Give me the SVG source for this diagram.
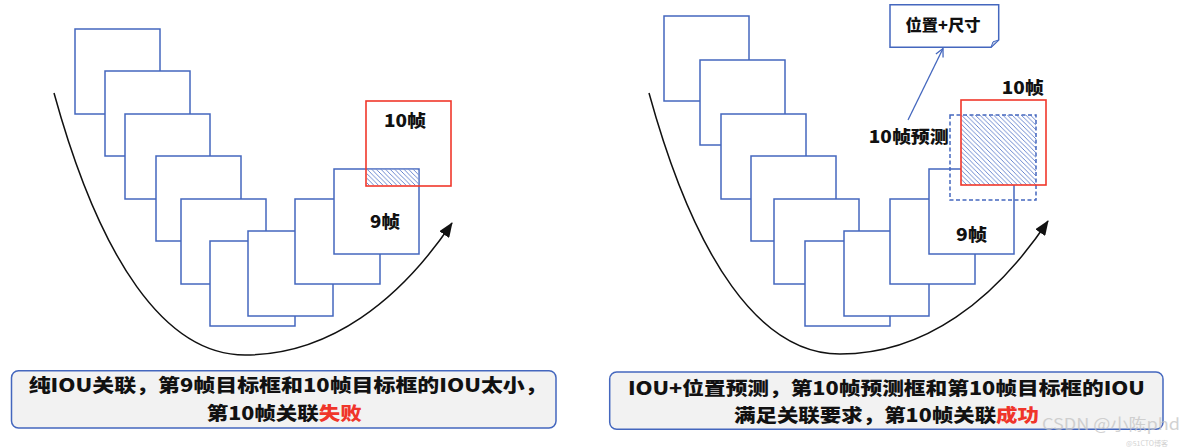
<svg xmlns="http://www.w3.org/2000/svg" width="1184" height="447" viewBox="0 0 1184 447">
<style>
.fr{fill:#ffffff;stroke:#4467BE;stroke-width:1.5}
.red{fill:none;stroke:#F0372B;stroke-width:1.6}
.dash{fill:none;stroke:#4467BE;stroke-width:1.5;stroke-dasharray:4 2.5}
.lbl{font-family:"Noto Sans CJK SC","Noto Sans",sans-serif;font-weight:900;fill:#111111}
.cap{fill:#F2F2F2;stroke:#4467BE;stroke-width:1.5}
.curve{fill:none;stroke:#111111;stroke-width:1.5}
.wm{font-family:"Noto Sans CJK SC","Noto Sans",sans-serif;fill:#c4c4c4;opacity:0.75}
</style>
<defs>
<pattern id="hatch" patternUnits="userSpaceOnUse" width="4.6" height="4.6">
<rect width="4.6" height="4.6" fill="#ffffff"/>
<path d="M-1,-1 L5.6,5.6 M-1,3.6 L1,5.6 M3.6,-1 L5.6,1" stroke="#5274C8" stroke-width="0.85"/>
</pattern>
<marker id="ah" markerUnits="userSpaceOnUse" markerWidth="15" markerHeight="12" viewBox="0 0 15 12" refX="14" refY="6" orient="auto">
<path d="M0,0 L15,6 L0,12 Z" fill="#111111"/>
</marker>
<marker id="oh" markerUnits="userSpaceOnUse" markerWidth="10" markerHeight="10" viewBox="0 0 10 10" refX="9" refY="5" orient="auto">
<path d="M1,1 L9,5 L1,9" fill="none" stroke="#4467BE" stroke-width="1.3"/>
</marker>
</defs>
<rect width="1184" height="447" fill="#ffffff"/>

<g id="connectors">
<path class="curve" d="M54,93 C100,260 165,355 245,355 C330,355 400,300 452,223" marker-end="url(#ah)"/>
<path class="curve" d="M649,93 C695,260 760,354 840,354 C925,354 995,300 1048,221" marker-end="url(#ah)"/>
<path d="M908,120 L943,48.5" fill="none" stroke="#4467BE" stroke-width="1.3" marker-end="url(#oh)"/>
</g>

<g id="left-frames">
<g id="L1"><rect class="fr" x="75" y="29" width="85" height="85"/></g>
<g id="L2"><rect class="fr" x="105" y="71" width="85" height="85"/></g>
<g id="L3"><rect class="fr" x="125" y="114" width="85" height="85"/></g>
<g id="L4"><rect class="fr" x="156" y="156" width="85" height="85"/></g>
<g id="L5"><rect class="fr" x="181" y="199" width="85" height="85"/></g>
<g id="L6"><rect class="fr" x="210" y="241" width="85" height="85"/></g>
<g id="L7"><rect class="fr" x="248" y="231" width="85" height="85"/></g>
<g id="L8"><rect class="fr" x="295" y="199" width="85" height="85"/></g>
<g id="L9"><rect class="fr" x="334" y="169" width="85" height="85"/>
<text class="lbl" x="385" y="227.5" font-size="17" text-anchor="middle" textLength="30" lengthAdjust="spacingAndGlyphs">9帧</text></g>
<g id="L-overlap"><rect x="366.8" y="169.8" width="51.4" height="15.4" fill="url(#hatch)"/></g>
<g id="L10"><rect class="red" x="366" y="101" width="85" height="85"/>
<text class="lbl" x="405" y="126.5" font-size="17" text-anchor="middle" textLength="42" lengthAdjust="spacingAndGlyphs">10帧</text></g>
</g>

<g id="right-frames">
<g id="R1"><rect class="fr" x="664" y="16" width="85" height="85"/></g>
<g id="R2"><rect class="fr" x="700" y="60" width="85" height="85"/></g>
<g id="R3"><rect class="fr" x="721" y="114" width="85" height="85"/></g>
<g id="R4"><rect class="fr" x="751" y="156" width="85" height="85"/></g>
<g id="R5"><rect class="fr" x="774" y="199" width="85" height="85"/></g>
<g id="R6"><rect class="fr" x="805" y="241" width="85" height="85"/></g>
<g id="R7"><rect class="fr" x="844" y="231" width="85" height="85"/></g>
<g id="R8"><rect class="fr" x="890" y="199" width="85" height="85"/></g>
<g id="R9"><rect class="fr" x="929" y="169" width="85" height="85"/>
<text class="lbl" x="971.5" y="240.5" font-size="17" text-anchor="middle" textLength="31" lengthAdjust="spacingAndGlyphs">9帧</text></g>
<g id="R-overlap"><rect x="961" y="115" width="75" height="70" fill="url(#hatch)"/></g>
<g id="R-pred"><rect class="dash" x="950" y="115" width="86" height="85"/>
<text class="lbl" x="908.8" y="143" font-size="17" text-anchor="middle" textLength="80" lengthAdjust="spacingAndGlyphs">10帧预测</text></g>
<g id="R10"><rect class="red" x="961" y="100" width="85" height="85"/>
<text class="lbl" x="1022.7" y="93.5" font-size="17" text-anchor="middle" textLength="42" lengthAdjust="spacingAndGlyphs">10帧</text></g>
<g id="R-note">
<path d="M890,4.7 H998.7 V40 L991,47.3 H890 Z" fill="#ffffff" stroke="#4467BE" stroke-width="1.5"/>
<path d="M991,47.3 L993,41.8 L998.7,40 Z" fill="#c9d3ea" stroke="#4467BE" stroke-width="1"/>
<text class="lbl" x="943" y="30.5" font-size="16" text-anchor="middle" textLength="75" lengthAdjust="spacingAndGlyphs">位置+尺寸</text>
</g>
</g>

<g id="caption-left">
<rect class="cap" x="11.5" y="370.7" width="544.5" height="57.3" rx="7"/>
<text class="lbl" x="28.7" y="391.8" font-size="18" textLength="518" lengthAdjust="spacingAndGlyphs">纯IOU关联，第9帧目标框和10帧目标框的IOU太小，</text>
<text class="lbl" x="284.2" y="419.8" font-size="18" text-anchor="middle" textLength="155" lengthAdjust="spacingAndGlyphs">第10帧关联<tspan fill="#F0352A">失败</tspan></text>
</g>

<g id="caption-right">
<rect class="cap" x="609.7" y="372" width="553.3" height="57.3" rx="7"/>
<text class="lbl" x="886.4" y="394.8" font-size="18" text-anchor="middle" textLength="517" lengthAdjust="spacingAndGlyphs">IOU+位置预测，第10帧预测框和第10帧目标框的IOU</text>
<text class="lbl" x="886.5" y="421.8" font-size="18" text-anchor="middle" textLength="305" lengthAdjust="spacingAndGlyphs">满足关联要求，第10帧关联<tspan fill="#F0352A">成功</tspan></text>
</g>

<g id="watermark">
<text class="wm" x="1042" y="429.5" font-size="16" textLength="138" lengthAdjust="spacingAndGlyphs">CSDN @小陈phd</text>
<text class="wm" x="1126" y="446" font-size="7" textLength="42" lengthAdjust="spacingAndGlyphs">@51CTO博客</text>
</g>
</svg>
